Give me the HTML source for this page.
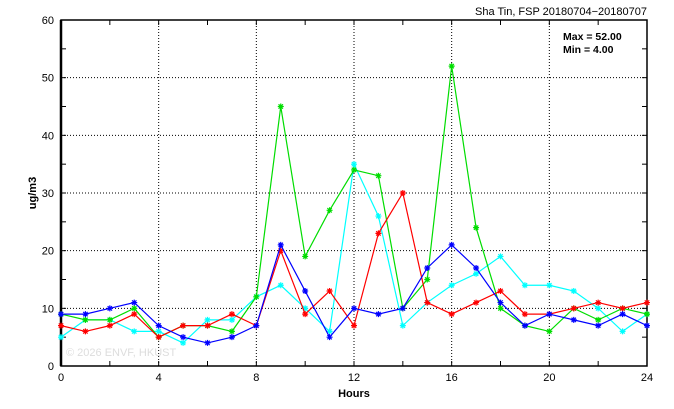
<!DOCTYPE html>
<html><head><meta charset="utf-8"><style>body{margin:0;background:#fff}svg{display:block}text{font-family:"Liberation Sans",sans-serif}</style></head><body>
<svg id="s" width="674" height="409" xmlns="http://www.w3.org/2000/svg"></svg>
<script>
const s=document.getElementById('s');
const X=h=>61+h*(586/24), Y=v=>366-v*(346/60);
let o='';
for(let h=4;h<24;h+=4)o+=`<line x1="${X(h)}" y1="20" x2="${X(h)}" y2="366" stroke="#000" stroke-dasharray="1,2" stroke-width="1"/>`;
for(let v=10;v<60;v+=10)o+=`<line x1="61" y1="${Y(v)}" x2="647" y2="${Y(v)}" stroke="#000" stroke-dasharray="1,2" stroke-width="1"/>`;
for(let h=0;h<=24;h+=2){o+=`<line x1="${X(h)}" y1="366" x2="${X(h)}" y2="361" stroke="#000"/><line x1="${X(h)}" y1="20" x2="${X(h)}" y2="25" stroke="#000"/>`;}
for(let v=0;v<=60;v+=5){o+=`<line x1="61" y1="${Y(v)}" x2="66" y2="${Y(v)}" stroke="#000"/><line x1="647" y1="${Y(v)}" x2="642" y2="${Y(v)}" stroke="#000"/>`;}
o+=`<rect x="61" y="20" width="586" height="346" fill="none" stroke="#000" stroke-width="1.5"/><line x1="61" y1="20" x2="61" y2="366" stroke="#000" stroke-width="2.5"/>`;
for(let h=0;h<=24;h+=4)o+=`<text x="${X(h)}" y="381" font-size="11" text-anchor="middle">${h}</text>`;
for(let v=0;v<=60;v+=10)o+=`<text x="54" y="${Y(v)+4}" font-size="11" text-anchor="end">${v}</text>`;
o+=`<text x="354" y="397" font-size="11" font-weight="bold" text-anchor="middle">Hours</text>`;
o+=`<text x="36" y="193" font-size="11" font-weight="bold" text-anchor="middle" transform="rotate(-90 36 193)">ug/m3</text>`;
o+=`<text x="647" y="15" font-size="11" text-anchor="end">Sha Tin, FSP 20180704−20180707</text>`;
o+=`<text x="563" y="40" font-size="10.5" font-weight="bold">Max = 52.00</text><text x="563" y="53" font-size="10.5" font-weight="bold">Min =  4.00</text>`;
o+=`<text x="66" y="356" font-size="11" fill="#ddd">© 2026  ENVF, HKUST</text>`;
const D={'#ff0000':[7,6,7,9,5,7,7,9,7,20,9,13,7,23,30,11,9,11,13,9,9,10,11,10,11],
'#00dd00':[9,8,8,10,5,7,7,6,12,45,19,27,34,33,10,15,52,24,10,7,6,10,8,10,9],
'#0000ff':[9,9,10,11,7,5,4,5,7,21,13,5,10,9,10,17,21,17,11,7,9,8,7,9,7],
'#00ffff':[5,8,8,6,6,4,8,8,12,14,10,6,35,26,7,11,14,16,19,14,14,13,10,6,9]};
for(const c of ['#00ffff','#00dd00','#ff0000','#0000ff']){const d=D[c];
o+=`<polyline fill="none" stroke="${c}" stroke-width="1.2" points="${d.map((v,i)=>X(i)+','+Y(v)).join(' ')}"/>`;
d.forEach((v,i)=>{const x=X(i),y=Y(v);o+=`<path d="M${x-3} ${y}h6M${x} ${y-3}v6M${x-2.2} ${y-2.2}l4.4 4.4M${x-2.2} ${y+2.2}l4.4 -4.4" stroke="${c}" stroke-width="1.2"/>`;});}
s.innerHTML=o;
</script>
</body></html>
